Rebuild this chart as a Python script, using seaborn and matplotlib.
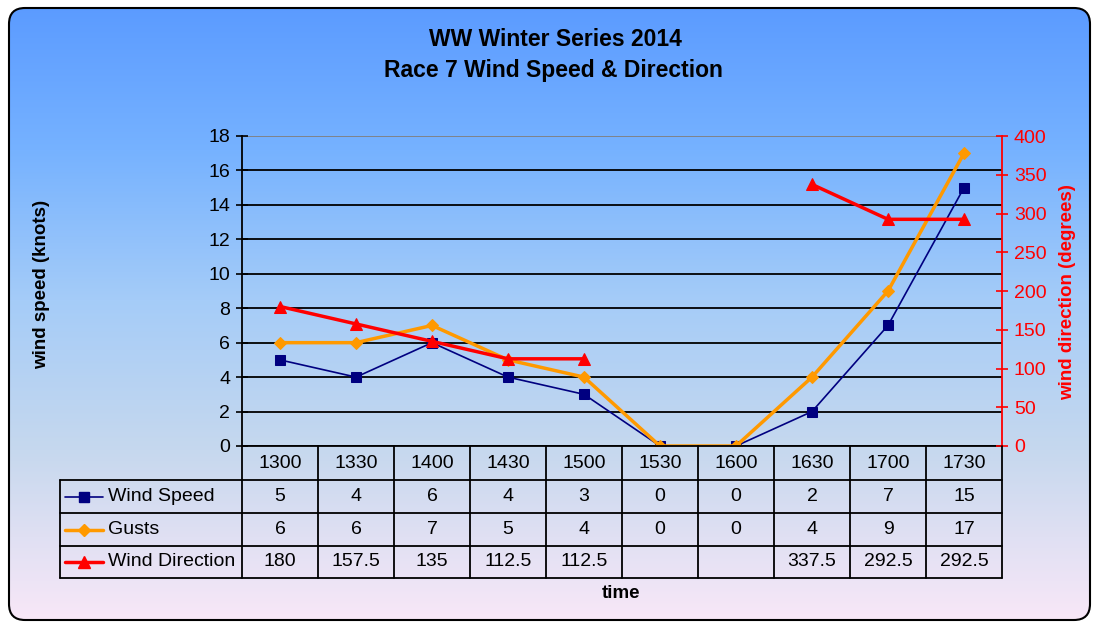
import numpy as np
import pandas as pd
import seaborn as sns
import matplotlib.pyplot as plt
from matplotlib.patches import FancyBboxPatch
from matplotlib.lines import Line2D
from matplotlib import transforms

# data
times = ['1300', '1330', '1400', '1430', '1500', '1530', '1600', '1630', '1700', '1730']
wind_speed = [5, 4, 6, 4, 3, 0, 0, 2, 7, 15]
gusts = [6, 6, 7, 5, 4, 0, 0, 4, 9, 17]
wind_dir = [180, 157.5, 135, 112.5, 112.5, np.nan, np.nan, 337.5, 292.5, 292.5]

W, H = 1093, 624
sns.set_style('white')
plt.rcParams['font.family'] = ['Liberation Sans', 'DejaVu Sans']
plt.rcParams['text.color'] = 'black'

def fx(x):
    return x / W

def fy(y):
    return 1 - y / H

fig = plt.figure(figsize=(W / 100, H / 100), dpi=100)
fig.patch.set_facecolor('white')

# background gradient inside rounded frame
bg = fig.add_axes([0, 0, 1, 1], zorder=-5)
bg.set_xlim(0, W)
bg.set_ylim(H, 0)
bg.axis('off')
stop_y = [0, 150, 300, 450, 624]
stop_c = np.array([(90, 154, 255), (118, 178, 255), (165, 204, 248),
                   (198, 216, 238), (250, 232, 248)]) / 255
yy = np.arange(H)
grad = np.stack([np.interp(yy, stop_y, stop_c[:, k]) for k in range(3)], axis=-1)[:, None, :]
im = bg.imshow(grad, extent=[0, W, H, 0], aspect='auto')
frame = FancyBboxPatch((9, 8), 1081, 612, boxstyle='round,pad=0,rounding_size=16',
                       fc='none', ec='black', lw=1.5)
bg.add_patch(frame)
im.set_clip_path(frame)

df = pd.DataFrame({'pos': np.arange(len(times)), 'speed': wind_speed,
                   'gusts': gusts, 'dir': wind_dir})
df['seg'] = df['dir'].isna().cumsum()

ax = fig.add_axes([fx(242), fy(446), (1002 - 242) / W, (446 - 136) / H])
ax.patch.set_alpha(0)

speed_col = '#000080'
gust_col = '#FF9900'
dir_col = '#FF0000'

sns.lineplot(data=df, x='pos', y='speed', ax=ax, color=speed_col, lw=1.2,
             marker='s', markersize=7, mec=speed_col, legend=False)
sns.lineplot(data=df, x='pos', y='gusts', ax=ax, color=gust_col, lw=2.5,
             marker='D', markersize=6.5, mec=gust_col, legend=False)

ax2 = ax.twinx()
sns.lineplot(data=df.dropna(), x='pos', y='dir', units='seg', estimator=None, ax=ax2,
             color=dir_col, lw=2.5, marker='^', markersize=8.5, mec=dir_col, legend=False)

ax.set_xlim(-0.5, 9.5)
ax.set_ylim(0, 18)
ax.set_yticks(np.arange(0, 19, 2))
ax2.set_ylim(0, 400)
ax2.set_yticks(np.arange(0, 401, 50))
ax.set_xticks([])
ax.set_xlabel('')
ax.set_ylabel('')
ax2.set_ylabel('')

ax.yaxis.grid(True, color='black', lw=1.3)
gl = ax.yaxis.get_gridlines()
gl[-1].set_color('#808080')

for s in ['top', 'right']:
    ax.spines[s].set_visible(False)
for s in ['left', 'bottom']:
    ax.spines[s].set_color('black')
    ax.spines[s].set_linewidth(1.3)
for s in ['top', 'left', 'bottom']:
    ax2.spines[s].set_visible(False)
ax2.spines['right'].set_color(dir_col)
ax2.spines['right'].set_linewidth(1.3)

ax.tick_params(axis='y', direction='inout', length=9, width=1.2, labelsize=14,
               pad=4, colors='black', left=True)
ax2.tick_params(axis='y', direction='inout', length=9, width=1.2, labelsize=14,
                pad=4, colors=dir_col, right=True)

# titles and axis labels
fig.text(fx(555), fy(40), 'WW Winter Series 2014', ha='center', va='center',
         fontsize=16.5, fontweight='bold')
fig.text(fx(553), fy(71), 'Race 7 Wind Speed & Direction', ha='center', va='center',
         fontsize=16.5, fontweight='bold')
fig.text(fx(42), fy(284), 'wind speed (knots)', rotation=90, ha='center', va='center',
         fontsize=13.5, fontweight='bold')
fig.text(fx(1068), fy(292), 'wind direction (degrees)', rotation=90, ha='center',
         va='center', fontsize=13.5, fontweight='bold', color=dir_col)
fig.text(fx(621), fy(594), 'time', ha='center', va='center', fontsize=13.5,
         fontweight='bold')

# data table below the plot
bt = transforms.blended_transform_factory(ax.transData, fig.transFigure)
row_edges = [446, 480, 513, 546, 578]

for i, t in enumerate(times):
    fig.text(i, fy(463), t, transform=bt, ha='center', va='center', fontsize=14)

rows = [('Wind Speed', wind_speed, speed_col, 's', 7, 1.2),
        ('Gusts', gusts, gust_col, 'D', 6.5, 2.5),
        ('Wind Direction', wind_dir, dir_col, '^', 8.5, 2.5)]
for r, (name, vals, col, mk, ms, lw) in enumerate(rows):
    yc = (row_edges[r + 1] + row_edges[r + 2]) / 2
    fig.add_artist(Line2D([fx(65), fx(103)], [fy(yc), fy(yc)], color=col, lw=lw))
    fig.add_artist(Line2D([fx(84)], [fy(yc)], color=col, marker=mk, markersize=ms,
                          mec=col, lw=0))
    fig.text(fx(108), fy(yc), name, ha='left', va='center', fontsize=14)
    for i, v in enumerate(vals):
        txt = '' if pd.isna(v) else f'{v:g}'
        fig.text(i, fy(yc), txt, transform=bt, ha='center', va='center', fontsize=14)

for y in row_edges[1:]:
    fig.add_artist(Line2D([fx(60), fx(1002)], [fy(y), fy(y)], color='black', lw=1.3))
fig.add_artist(Line2D([fx(60), fx(60)], [fy(480), fy(578)], color='black', lw=1.3))
for i in range(len(times) + 1):
    fig.add_artist(Line2D([i - 0.5, i - 0.5], [fy(446), fy(578)], transform=bt,
                          color='black', lw=1.3))

fig.savefig('out.png', dpi=100)
